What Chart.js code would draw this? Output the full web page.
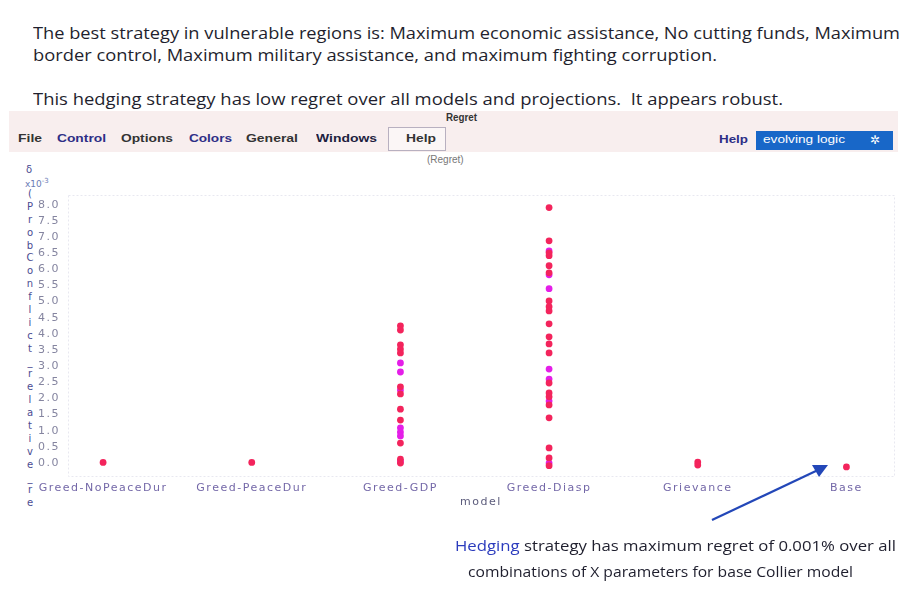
<!DOCTYPE html>
<html><head><meta charset="utf-8">
<script src="https://cdn.jsdelivr.net/npm/chart.js@4.4.0/dist/chart.umd.min.js"></script>
<style>
html,body{margin:0;padding:0;background:#fff;width:917px;height:602px;overflow:hidden;position:relative;font-family:"Open Sans",sans-serif;}
.t{position:absolute;white-space:nowrap;transform-origin:0 50%;line-height:1;}
.txt{font-size:16px;color:#1f1f2e;}
.menu{font-family:"Liberation Sans",sans-serif;font-size:11px;font-weight:bold;color:#333;}
#bar{position:absolute;left:9px;top:111px;width:889px;height:41px;background:#f8eeee;}
#helpbox{position:absolute;left:388px;top:127px;width:56px;height:22px;border:1px solid #b8b0c0;background:#fbf6f6;}
#elbox{position:absolute;left:756px;top:131px;width:137px;height:19px;background:#1867c8;}
#wrap{position:absolute;left:0;top:165px;width:917px;height:350px;}
#vtitle{position:absolute;left:25px;top:188px;width:10px;font-family:"DejaVu Sans",sans-serif;font-size:10px;line-height:12.9px;color:#4b4b92;text-align:center;}
#vtitle span{display:block;height:12.9px;}
</style></head>
<body>
<div class="t txt" style="left:33px;top:25px" data-w="867">The best strategy in vulnerable regions is: Maximum economic assistance, No cutting funds, Maximum</div>
<div class="t txt" style="left:33px;top:47px" data-w="684">border control, Maximum military assistance, and maximum fighting corruption.</div>
<div class="t txt" style="left:33px;top:91px" data-w="750">This hedging strategy has low regret over all models and projections.&nbsp; It appears robust.</div>

<div id="bar"></div>
<div class="t menu" style="left:446px;top:113px;font-size:10px" data-w="31">Regret</div>
<div id="helpbox"></div>
<div class="t menu" style="left:18px;top:133px" data-w="24">File</div>
<div class="t menu" style="left:57px;top:133px;color:#2e2e86" data-w="49">Control</div>
<div class="t menu" style="left:121px;top:133px" data-w="52">Options</div>
<div class="t menu" style="left:189px;top:133px;color:#2e2e86" data-w="43">Colors</div>
<div class="t menu" style="left:246px;top:133px" data-w="52">General</div>
<div class="t menu" style="left:316px;top:133px;color:#1e1e40" data-w="61">Windows</div>
<div class="t menu" style="left:406px;top:133px" data-w="30">Help</div>
<div class="t menu" style="left:719px;top:134px;color:#2e2e86" data-w="29">Help</div>
<div id="elbox"></div>
<div class="t menu" style="left:763px;top:135px;color:#fff;font-weight:normal;font-size:10px" data-w="82">evolving logic</div>
<div class="t menu" style="left:870px;top:134px;color:#fff;font-weight:normal;font-size:12px">✲</div>
<div class="t" style="left:427px;top:155px;font-family:'Liberation Sans',sans-serif;font-size:10px;color:#777">(Regret)</div>

<div class="t" style="left:26px;top:165px;font-family:'DejaVu Sans',sans-serif;font-size:10px;color:#4b4b92">δ</div>
<div class="t" style="left:25px;top:178px;font-family:'DejaVu Sans',sans-serif;font-size:9px;color:#6b7bb5">x10<sup style="font-size:7px">-3</sup></div>
<div id="vtitle" data-text="(ProbConflict_relative_re"></div>

<div id="wrap"><canvas id="c" width="917" height="350"></canvas></div>

<svg style="position:absolute;left:0;top:0" width="917" height="602">
<line x1="712" y1="520" x2="818" y2="470" stroke="#2347b8" stroke-width="2.2"/>
<polygon points="828,465 812,465 819,477" fill="#2347b8"/>
</svg>

<div class="t txt" style="left:455px;top:538px;font-size:15px" data-w="441"><span style="color:#2b3bbd">Hedging</span> strategy has maximum regret of 0.001% over all</div>
<div class="t txt" style="left:468px;top:564px;font-size:15px" data-w="385">combinations of X parameters for base Collier model</div>

<script>
const categories = ['Greed-NoPeaceDur','Greed-PeaceDur','Greed-GDP','Greed-Diasp','Grievance','Base'];
const yTickValues = [0,0.5,1,1.5,2,2.5,3,3.5,4,4.5,5,5.5,6,6.5,7,7.5,8];
const redRegret = [
  [0.02],
  [0.02],
  [4.25,4.12,3.66,3.53,3.41,2.36,2.14,1.67,1.33,0.62,0.12,0.0],
  [7.91,6.88,6.51,6.42,6.11,5.89,5.02,4.84,4.71,4.31,3.91,3.69,3.41,2.48,2.17,2.05,1.80,1.40,0.47,0.16,-0.08],
  [0.03,-0.06],
  [-0.12]
];
const magentaRegret = [
  [],
  [],
  [3.10,2.82,2.26,1.09,0.96,0.84,0.05],
  [6.57,5.83,5.40,2.91,2.60,1.92,0.0],
  [],
  []
];

(function(){
  const vt = document.getElementById('vtitle');
  for (const ch of vt.dataset.text) {
    const s = document.createElement('span');
    s.textContent = ch;
    vt.appendChild(s);
  }
})();

function toPoints(vals){
  const pts = [];
  vals.forEach((arr,i)=>arr.forEach(v=>pts.push({x:i,y:v})));
  return pts;
}

const framePlugin = {
  id:'frame',
  beforeDraw(chart){ chart.ctx.letterSpacing = '1.5px'; },
  beforeDatasetsDraw(chart){
    const {ctx, chartArea:a} = chart;
    ctx.save();
    ctx.strokeStyle = '#e8e8f0';
    ctx.lineWidth = 1;
    ctx.setLineDash([2,2]);
    ctx.strokeRect(a.left+0.5, a.top+0.5, a.right-a.left, a.bottom-a.top);
    ctx.restore();
  }
};

new Chart(document.getElementById('c'), {
  type:'scatter',
  data:{datasets:[
    {label:'red', data:toPoints(redRegret), backgroundColor:'#f3245c', borderWidth:0, pointRadius:3.4, pointStyle:'circle'},
    {label:'magenta', data:toPoints(magentaRegret), backgroundColor:'#e41ee8', borderWidth:0, pointRadius:3.4, pointStyle:'circle'}
  ]},
  options:{
    responsive:false, animation:false, events:[],
    layout:{padding:{top:30,right:23,left:0,bottom:0}},
    plugins:{legend:{display:false},tooltip:{enabled:false}},
    scales:{
      x:{type:'linear', min:-0.236, max:5.32,
        afterBuildTicks:s=>{s.ticks = categories.map((c,i)=>({value:i}));},
        afterFit:s=>{s.height = 39;},
        grid:{display:false, drawTicks:false}, border:{display:false},
        ticks:{padding:6, color:'#7468a8', font:{family:'DejaVu Sans', size:11}, callback:v=>categories[v], maxRotation:0, autoSkip:false},
        title:{display:true, text:'model', color:'#5c5c7c', font:{family:'DejaVu Sans', size:11}, padding:{top:0,bottom:6}}
      },
      y:{type:'linear', min:-0.4, max:8.3,
        afterBuildTicks:s=>{s.ticks = yTickValues.map(v=>({value:v}));},
        afterFit:s=>{s.width = 68;},
        grid:{display:false, drawTicks:false}, border:{display:false},
        ticks:{padding:8, color:'#8585a0', font:{family:'DejaVu Sans', size:11}, callback:v=>Number(v).toFixed(1), autoSkip:false}
      }
    }
  },
  plugins:[framePlugin]
});

document.fonts.ready.then(()=>{
  document.querySelectorAll('[data-w]').forEach(el=>{
    const w = el.getBoundingClientRect().width;
    el.style.transform = 'scaleX(' + (+el.dataset.w / w) + ')';
  });
});
</script>
</body></html>
